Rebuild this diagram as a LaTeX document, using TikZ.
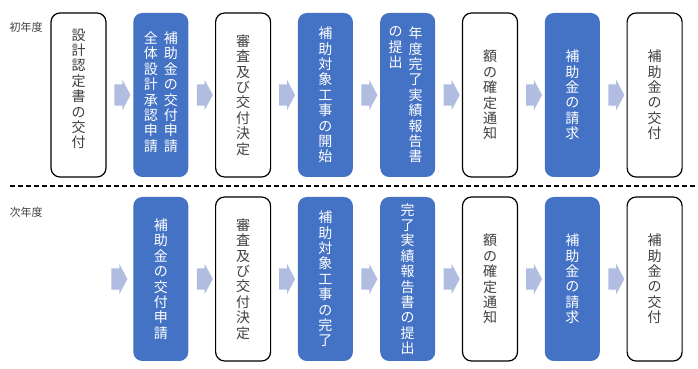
\documentclass[tikz,border=0pt]{standalone}
\usepackage{fontspec}
\setmainfont{Noto Sans CJK JP}
\usepackage{xcolor}
\usepackage{tikz}
\usetikzlibrary{positioning,shapes.arrows,calc}
\definecolor{stepblue}{RGB}{68, 114, 196}
\definecolor{arrowblue}{RGB}{176, 189, 224}
\definecolor{textgray}{RGB}{64, 64, 64}
% one character per line
\makeatletter
\newcommand\tate[1]{\def\tate@buf{}\def\tate@sep{}%
  \@tfor\tate@c:=#1\do{\edef\tate@buf{\unexpanded\expandafter{\tate@buf}\unexpanded\expandafter{\tate@sep}\unexpanded\expandafter{\tate@c}}\def\tate@sep{\\}}%
  \tate@buf}
\makeatother

\begin{document}
\begin{tikzpicture}[x=1pt, y=1pt,
  tatefont/.style={align=center, font=\fontsize{14}{15.4}\selectfont},
  whitebox/.style={tatefont, draw=black, line width=1.2pt, fill=white, text=textgray, rounded corners=9pt, minimum width=55pt, minimum height=164pt, inner sep=0pt, outer sep=0pt},
  bluebox/.style={tatefont, fill=stepblue, text=white, rounded corners=9pt, minimum width=55pt, minimum height=164pt, inner sep=0pt, outer sep=0pt},
  coltext/.style={tatefont, inner sep=0pt, text=white},
  flowarrow/.style={single arrow, fill=arrowblue, inner xsep=0pt, inner ysep=10.5pt, minimum height=16pt, single arrow head extend=4.5pt, single arrow tip angle=124},
  yearlabel/.style={anchor=west, font=\fontsize{11}{13}\selectfont, text=textgray}]
\useasboundingbox (0,0) rectangle (698,369);

\node[yearlabel] (first) at (6,342) {初年度};
\node[yearlabel] (next) at (6,157) {次年度};

% first year
\node[whitebox] (a1) at (78.5,274) {};
\node[coltext, text=textgray] (a1t) at ($(a1)+(0,6)$) {\tate{設計認定書の交付}};
\node[bluebox, right=27.3pt of a1] (a2) {};
\node[coltext] (a2r) at ($(a2)+(10,3)$) {\tate{補助金の交付申請}};
\node[coltext, anchor=north] (a2l) at ($(a2r.north)+(-20,0)$) {\tate{全体設計承認申請}};
\node[whitebox, right=27.3pt of a2] (a3) {\tate{審査及び交付決定}};
\node[bluebox, right=27.3pt of a3] (a4) {\tate{補助対象工事の開始}};
\node[bluebox, right=27.3pt of a4] (a5) {};
\node[coltext] (a5r) at ($(a5)+(8,0)$) {\tate{年度完了実績報告書}};
\node[coltext, anchor=north] (a5l) at ($(a5r.north)+(-20,0)$) {\tate{の提出}};
\node[whitebox, right=27.3pt of a5] (a6) {\tate{額の確定通知}};
\node[bluebox, right=27.3pt of a6] (a7) {\tate{補助金の請求}};
\node[whitebox, right=27.3pt of a7] (a8) {\tate{補助金の交付}};
\foreach \i [evaluate=\i as \j using int(\i+1)] in {1,...,7}
    \node[flowarrow] (pa\i) at ($(a\i.east)!0.5!(a\j.west)$) {};

\draw[line width=1.2pt, dash pattern=on 5pt off 3pt] (10,183) -- (698,183);

% next year
\node[bluebox] (b2) at (160.8,90) {\tate{補助金の交付申請}};
\node[whitebox, right=27.3pt of b2] (b3) {\tate{審査及び交付決定}};
\node[bluebox, right=27.3pt of b3] (b4) {\tate{補助対象工事の完了}};
\node[bluebox, right=27.3pt of b4] (b5) {\tate{完了実績報告書の提出}};
\node[whitebox, right=27.3pt of b5] (b6) {\tate{額の確定通知}};
\node[bluebox, right=27.3pt of b6] (b7) {\tate{補助金の請求}};
\node[whitebox, right=27.3pt of b7] (b8) {\tate{補助金の交付}};
\node[flowarrow, left=5.65pt of b2] (pb1) {};
\foreach \i [evaluate=\i as \j using int(\i+1)] in {2,...,7}
    \node[flowarrow] (pb\i) at ($(b\i.east)!0.5!(b\j.west)$) {};
\end{tikzpicture}
\end{document}
